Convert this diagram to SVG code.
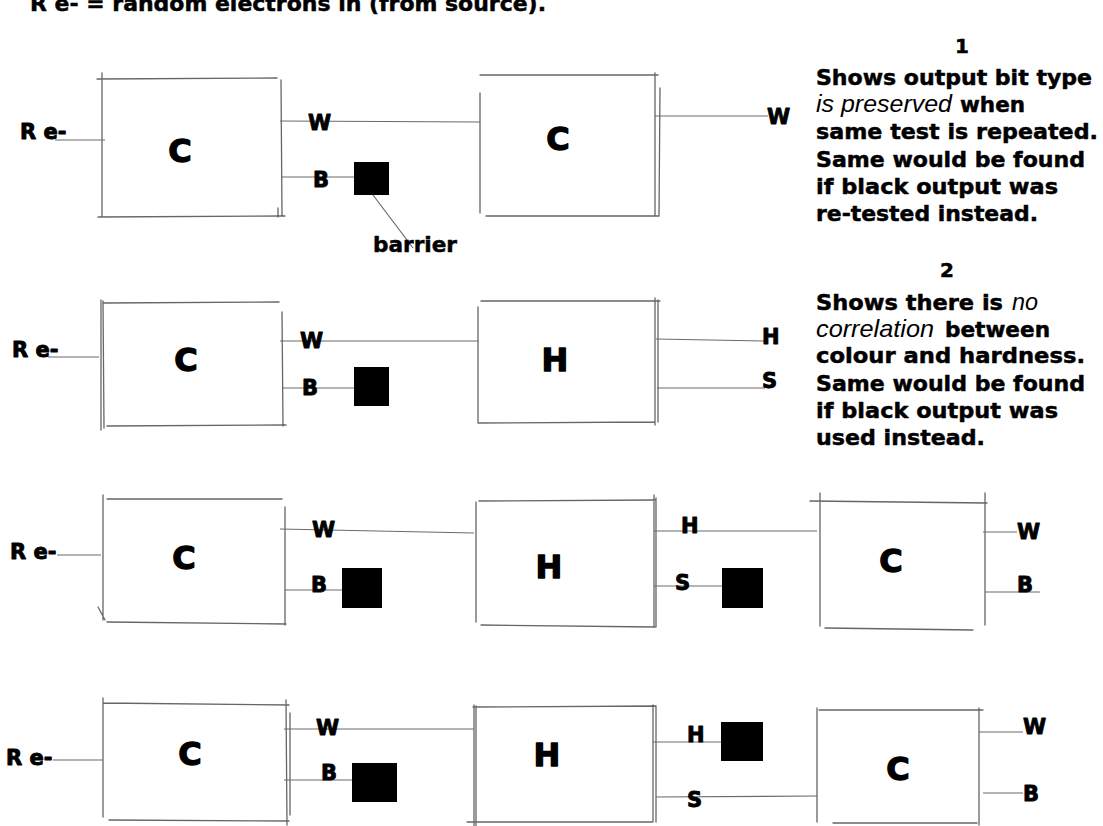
<svg xmlns="http://www.w3.org/2000/svg" width="1103" height="826" viewBox="0 0 1103 826">
<style>
.sk{fill:none;stroke:#666;stroke-width:1.3;stroke-linecap:round}
.cn{fill:none;stroke:#6a6a6a;stroke-width:1.2}
.bar{fill:#000}
.t{font-family:"DejaVu Sans","Liberation Sans",sans-serif;font-weight:bold;fill:#000;stroke:#000;stroke-width:0.5;stroke-linejoin:round}
.big{font-size:32px;text-anchor:middle;stroke-width:1.3}
.lbl{font-size:21px;stroke-width:0.9}
.body{font-size:22px}
.it{font-family:"Liberation Sans","DejaVu Sans",sans-serif;font-style:italic;font-weight:normal;font-size:24px;fill:#000}
</style>
<rect width="1103" height="826" fill="#fff"/>

<text class="t body" x="30" y="11" textLength="516" lengthAdjust="spacingAndGlyphs">R e- = random electrons in (from source).</text>

<g id="connectors">
  <!-- row 1 -->
  <path class="cn" d="M55 140 L105 140"/>
  <path class="cn" d="M280 121 L480 122"/>
  <path class="cn" d="M282 177 L354 177"/>
  <path class="cn" d="M655 116 L768 116"/>
  <path class="cn" d="M373 195 L413 248"/>
  <!-- row 2 -->
  <path class="cn" d="M48 357 L99 357"/>
  <path class="cn" d="M280 341 L478 341"/>
  <path class="cn" d="M283 388 L354 388"/>
  <path class="cn" d="M656 339 L765 341"/>
  <path class="cn" d="M657 388 L765 388"/>
  <!-- row 3 -->
  <path class="cn" d="M57 555 L101 555"/>
  <path class="cn" d="M280 529 L474 533"/>
  <path class="cn" d="M285 590 L343 590"/>
  <path class="cn" d="M654 531 L817 531"/>
  <path class="cn" d="M654 586 L722 586"/>
  <path class="cn" d="M983 532 L1017 532"/>
  <path class="cn" d="M985 592 L1040 592"/>
  <!-- row 4 -->
  <path class="cn" d="M53 760 L103 760"/>
  <path class="cn" d="M284 729 L474 729"/>
  <path class="cn" d="M284 780 L352 780"/>
  <path class="cn" d="M653 742 L721 742"/>
  <path class="cn" d="M656 797 L817 796"/>
  <path class="cn" d="M979 732 L1023 732"/>
  <path class="cn" d="M983 793 L1023 793"/>
</g>

<!-- Row 1 -->
<g id="r1-input"><text class="t lbl" x="20" y="139">R e-</text></g>
<g id="r1-c1">
  <path class="sk" d="M102 73 L102 217 M97 79 L277 78 M281 80 L282 216 M98 217 L285 216 M278 208 L278 217"/>
  <text class="t big" x="180" y="162">C</text>
</g>
<g id="r1-out-w"><text class="t lbl" x="308" y="130">W</text></g>
<g id="r1-out-b"><text class="t lbl" x="313" y="187">B</text></g>
<g id="r1-barrier">
  <rect class="bar" x="354" y="162" width="35" height="33"/>
  <text class="t" x="373" y="252" font-size="22" textLength="84" lengthAdjust="spacingAndGlyphs">barrier</text>
</g>
<g id="r1-c2">
  <path class="sk" d="M480 93 L480 213 M480 75 L658 75 M655 73 L655 216 M660 88 L659 215 M486 216 L659 216"/>
  <text class="t big" x="558" y="150">C</text>
</g>
<g id="r1-w"><text class="t lbl" x="767" y="124">W</text></g>

<!-- Row 2 -->
<g id="r2-input"><text class="t lbl" x="12" y="357">R e-</text></g>
<g id="r2-c">
  <path class="sk" d="M101 300 L101 430 M103 301 L104 428 M104 303 L279 302 M282 312 L283 426 M107 426 L286 425"/>
  <text class="t big" x="186" y="371">C</text>
</g>
<g id="r2-out-w"><text class="t lbl" x="300" y="348">W</text></g>
<g id="r2-out-b"><text class="t lbl" x="302" y="395">B</text></g>
<g id="r2-barrier"><rect class="bar" x="354" y="367" width="35" height="39"/></g>
<g id="r2-h">
  <path class="sk" d="M478 307 L478 422 M481 301 L660 301 M655 298 L655 425 M658 300 L658 422 M478 423 L655 422"/>
  <text class="t big" x="555" y="371">H</text>
</g>
<g id="r2-out-h"><text class="t lbl" x="762" y="344">H</text></g>
<g id="r2-out-s"><text class="t lbl" x="762" y="388">S</text></g>

<!-- Row 3 -->
<g id="r3-input"><text class="t lbl" x="10" y="559">R e-</text></g>
<g id="r3-c1">
  <path class="sk" d="M103 495 L103 620 M98 607 L105 620 M107 499 L282 499 M285 507 L285 625 M107 622 L286 624"/>
  <text class="t big" x="184" y="569">C</text>
</g>
<g id="r3-out-w"><text class="t lbl" x="312" y="537">W</text></g>
<g id="r3-out-b"><text class="t lbl" x="311" y="592">B</text></g>
<g id="r3-barrier1"><rect class="bar" x="342" y="568" width="40" height="40"/></g>
<g id="r3-h">
  <path class="sk" d="M476 502 L476 622 M479 501 L655 500 M654 495 L654 627 M656 498 L656 627 M481 625 L655 627"/>
  <text class="t big" x="549" y="578">H</text>
</g>
<g id="r3-out-h"><text class="t lbl" x="681" y="533">H</text></g>
<g id="r3-out-s"><text class="t lbl" x="675" y="590">S</text></g>
<g id="r3-barrier2"><rect class="bar" x="722" y="568" width="41" height="40"/></g>
<g id="r3-c2">
  <path class="sk" d="M820 493 L820 626 M810 501 L987 503 M985 493 L985 625 M825 628 L973 630"/>
  <text class="t big" x="891" y="572">C</text>
</g>
<g id="r3-w"><text class="t lbl" x="1017" y="539">W</text></g>
<g id="r3-b"><text class="t lbl" x="1017" y="592">B</text></g>

<!-- Row 4 -->
<g id="r4-input"><text class="t lbl" x="6" y="765">R e-</text></g>
<g id="r4-c1">
  <path class="sk" d="M103 698 L103 817 M103 703 L289 705 M286 700 L287 825 M290 713 L290 815 M109 820 L289 821"/>
  <text class="t big" x="190" y="765">C</text>
</g>
<g id="r4-out-w"><text class="t lbl" x="316" y="735">W</text></g>
<g id="r4-out-b"><text class="t lbl" x="321" y="780">B</text></g>
<g id="r4-barrier1"><rect class="bar" x="352" y="763" width="45" height="39"/></g>
<g id="r4-h">
  <path class="sk" d="M474 705 L474 826 M476 706 L476 826 M473 707 L656 706 M653 705 L653 822 M656 706 L656 822 M467 822 L652 822"/>
  <text class="t big" x="547" y="766">H</text>
</g>
<g id="r4-out-h"><text class="t lbl" x="687" y="742">H</text></g>
<g id="r4-barrier2"><rect class="bar" x="721" y="722" width="42" height="39"/></g>
<g id="r4-out-s"><text class="t lbl" x="687" y="807">S</text></g>
<g id="r4-c2">
  <path class="sk" d="M817 708 L817 822 M819 710 L983 710 M979 708 L979 825 M833 823 L977 823"/>
  <text class="t big" x="898" y="780">C</text>
</g>
<g id="r4-w"><text class="t lbl" x="1023" y="734">W</text></g>
<g id="r4-b"><text class="t lbl" x="1023" y="801">B</text></g>

<!-- Notes -->
<g id="note1">
  <text class="t" x="962" y="53" font-size="20" text-anchor="middle">1</text>
  <text class="t body" x="816" y="85" textLength="276" lengthAdjust="spacingAndGlyphs">Shows output bit type</text>
  <text class="it" x="816" y="112" textLength="136" lengthAdjust="spacingAndGlyphs">is preserved</text>
  <text class="t body" x="960" y="112" textLength="65" lengthAdjust="spacingAndGlyphs">when</text>
  <text class="t body" x="816" y="139" textLength="282" lengthAdjust="spacingAndGlyphs">same test is repeated.</text>
  <text class="t body" x="816" y="167" textLength="269" lengthAdjust="spacingAndGlyphs">Same would be found</text>
  <text class="t body" x="816" y="194" textLength="242" lengthAdjust="spacingAndGlyphs">if black output was</text>
  <text class="t body" x="816" y="221" textLength="222" lengthAdjust="spacingAndGlyphs">re-tested instead.</text>
</g>
<g id="note2">
  <text class="t" x="947" y="277" font-size="20" text-anchor="middle">2</text>
  <text class="t body" x="816" y="310" textLength="187" lengthAdjust="spacingAndGlyphs">Shows there is</text>
  <text class="it" x="1012" y="310" textLength="26" lengthAdjust="spacingAndGlyphs">no</text>
  <text class="it" x="816" y="337" textLength="118" lengthAdjust="spacingAndGlyphs">correlation</text>
  <text class="t body" x="945" y="337" textLength="105" lengthAdjust="spacingAndGlyphs">between</text>
  <text class="t body" x="816" y="363" textLength="269" lengthAdjust="spacingAndGlyphs">colour and hardness.</text>
  <text class="t body" x="816" y="391" textLength="269" lengthAdjust="spacingAndGlyphs">Same would be found</text>
  <text class="t body" x="816" y="418" textLength="242" lengthAdjust="spacingAndGlyphs">if black output was</text>
  <text class="t body" x="816" y="445" textLength="169" lengthAdjust="spacingAndGlyphs">used instead.</text>
</g>
</svg>
